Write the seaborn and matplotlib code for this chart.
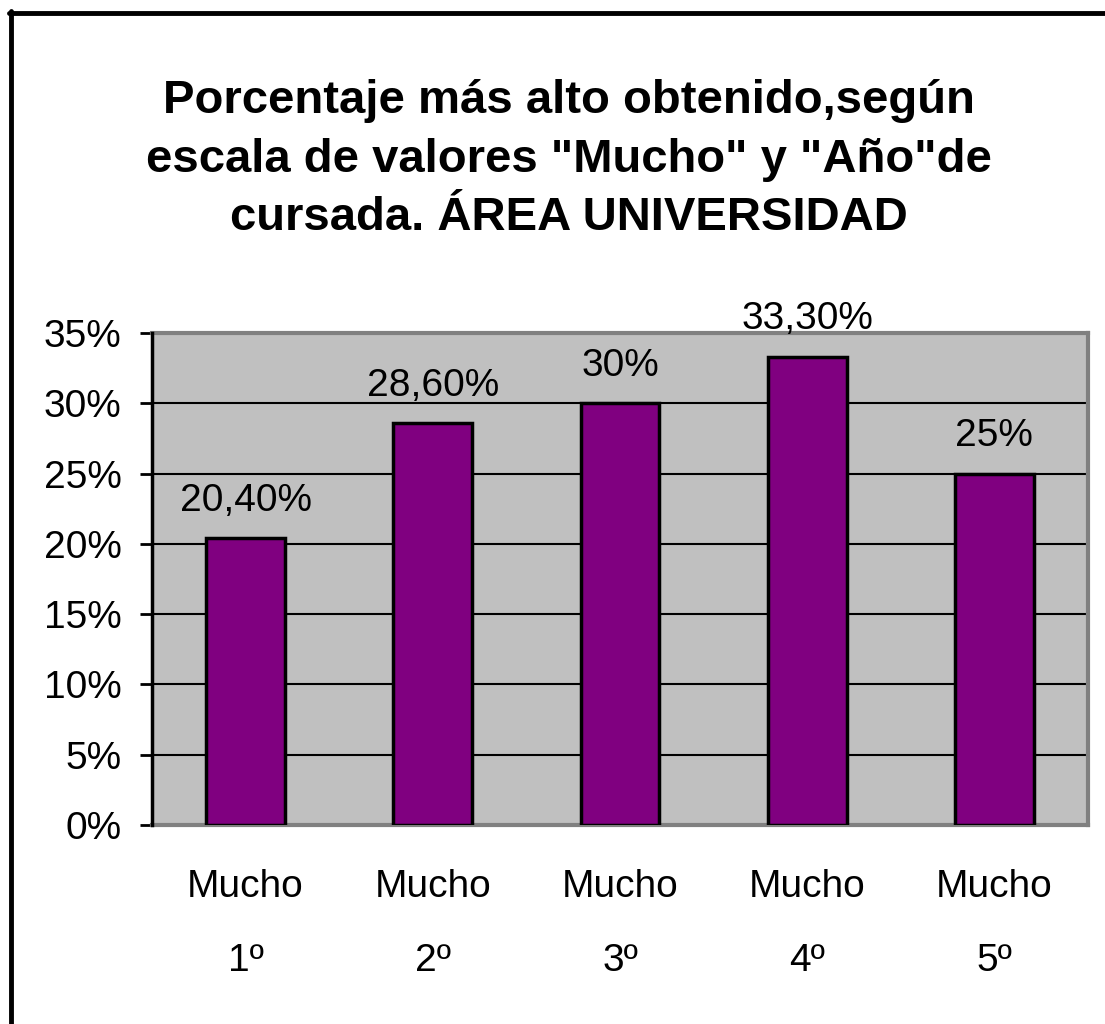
import matplotlib
matplotlib.use("Agg")
import matplotlib.pyplot as plt
import matplotlib.lines as mlines
import pandas as pd
import seaborn as sns

categories = ["Mucho\n1º", "Mucho\n2º", "Mucho\n3º", "Mucho\n4º", "Mucho\n5º"]
values = [20.4, 28.6, 30.0, 33.3, 25.0]
value_labels = ["20,40%", "28,60%", "30%", "33,30%", "25%"]
y_ticks = [0, 5, 10, 15, 20, 25, 30, 35]
title = 'Porcentaje más alto obtenido,según\nescala de valores "Mucho" y "Año"de\ncursada. ÁREA UNIVERSIDAD'

sns.set_theme(style="white")
plt.rcParams['font.family'] = ['Liberation Sans', 'DejaVu Sans']
plt.rcParams['text.color'] = 'black'
plt.rcParams['xtick.color'] = 'black'
plt.rcParams['ytick.color'] = 'black'

df = pd.DataFrame({"cat": categories, "val": values})

fig = plt.figure(figsize=(11.05, 10.24), dpi=100)
ax = fig.add_axes([152 / 1105, 1 - 825 / 1024, (1088 - 152) / 1105, (825 - 333) / 1024])

sns.barplot(data=df, x="cat", y="val", color="#800080", saturation=1,
            width=0.42, edgecolor="black", linewidth=2.5, ax=ax, zorder=3)

ax.set_facecolor("#C0C0C0")
ax.set_ylim(0, 35)
ax.set_yticks(y_ticks)
ax.set_yticklabels([f"{t}%" for t in y_ticks], fontsize=28)
ax.set_xlabel("")
ax.set_ylabel("")
ax.yaxis.grid(True, color="black", linewidth=1.5, zorder=0)
ax.set_axisbelow(True)
ax.tick_params(axis="y", which="major", length=9, width=2, color="black",
               direction="out", left=True, pad=13, labelcolor="black")
ax.tick_params(axis="x", length=0, labelsize=28, pad=32, labelcolor="black")
for t in ax.get_xticklabels():
    t.set_linespacing(2.35)

for side in ["top", "right", "bottom"]:
    ax.spines[side].set_color("#808080")
    ax.spines[side].set_linewidth(3)
ax.spines["left"].set_color("black")
ax.spines["left"].set_linewidth(2.5)
ax.spines["left"].set_zorder(5)

for i, (v, lab) in enumerate(zip(values, value_labels)):
    ax.annotate(lab, (i, v), xytext=(0, 14), textcoords="offset points",
                ha="center", va="bottom", fontsize=28, color="black")

fig.text(569 / 1105, 1 - 230 / 1024, title, ha="center", va="baseline",
         fontsize=34, fontweight="bold", linespacing=1.42, color="black")

# outer chart border (cut off at right and bottom in the original)
fig.add_artist(mlines.Line2D([11 / 1105, 11 / 1105], [0, 1 - 11 / 1024],
                             color="black", linewidth=3.5))
fig.add_artist(mlines.Line2D([9 / 1105, 1], [1 - 13 / 1024, 1 - 13 / 1024],
                             color="black", linewidth=3.5))

fig.savefig("out.png", dpi=100)
